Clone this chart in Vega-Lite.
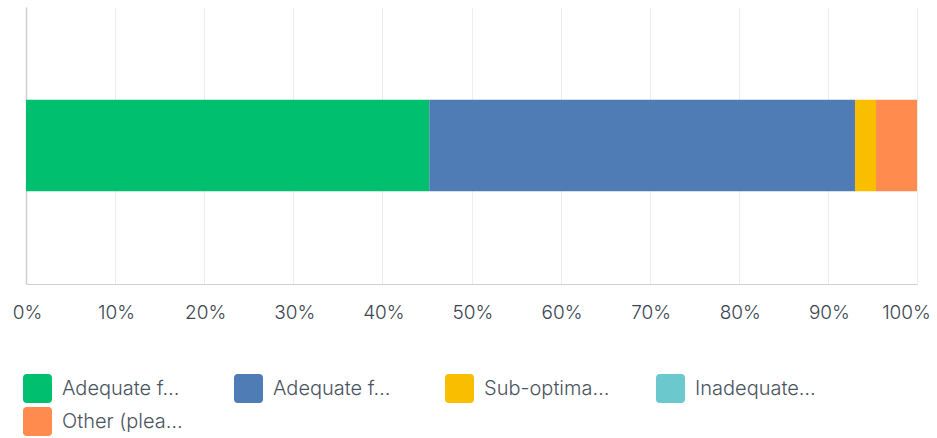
{
  "$schema": "https://vega.github.io/schema/vega-lite/v6.json",
  "autosize": {"type": "none"},
  "width": 891,
  "height": 277,
  "padding": {"left": 26, "top": 7, "right": 20, "bottom": 154},
  "background": "white",
  "data": {
    "values": [
      {"answer": "Adequate for current needs", "pct": 45.26, "rank": 1, "q": "Q"},
      {"answer": "Adequate for future needs", "pct": 47.78, "rank": 2, "q": "Q"},
      {"answer": "Sub-optimal but workable", "pct": 2.36, "rank": 3, "q": "Q"},
      {"answer": "Inadequate for needs", "pct": 0, "rank": 4, "q": "Q"},
      {"answer": "Other (please specify)", "pct": 4.6, "rank": 5, "q": "Q"}
    ]
  },
  "mark": {"type": "bar"},
  "encoding": {
    "y": {
      "field": "q",
      "type": "nominal",
      "axis": null,
      "scale": {"paddingInner": 0.67, "paddingOuter": 0.335}
    },
    "x": {
      "field": "pct",
      "type": "quantitative",
      "stack": "zero",
      "scale": {"domain": [0, 100], "nice": false},
      "axis": {
        "values": [0, 10, 20, 30, 40, 50, 60, 70, 80, 90, 100],
        "labelExpr": "datum.value + '%'",
        "title": null,
        "ticks": false,
        "domain": true,
        "domainColor": "#d0d0d0",
        "domainWidth": 1,
        "grid": true,
        "gridColor": {"condition": {"test": "datum.value == 0", "value": "#d0d0d0"}, "value": "#ececec"},
        "gridWidth": {"condition": {"test": "datum.value == 0", "value": 1.5}, "value": 1},
        "labelFont": "Inter",
        "labelFontSize": 19,
        "labelFontWeight": 300,
        "labelColor": "#3b4650",
        "labelPadding": 19,
        "labelFlush": false,
        "labelOverlap": false,
        "labelOffset": {"expr": "datum.value == 100 ? -11 : 1"}
      }
    },
    "color": {
      "field": "answer",
      "type": "nominal",
      "scale": {
        "domain": ["Adequate for current needs", "Adequate for future needs", "Sub-optimal but workable", "Inadequate for needs", "Other (please specify)"],
        "range": ["#00bf6f", "#507cb6", "#f9be00", "#6bc8cd", "#ff8b4f"]
      },
      "legend": {
        "orient": "none",
        "legendX": -3,
        "legendY": 367,
        "direction": "horizontal",
        "columns": 4,
        "gridAlign": "all",
        "columnPadding": 46,
        "rowPadding": 4,
        "title": null,
        "symbolType": "M-0.75,-1H0.75A0.25,0.25 0 0 1 1,-0.75V0.75A0.25,0.25 0 0 1 0.75,1H-0.75A0.25,0.25 0 0 1 -1,0.75V-0.75A0.25,0.25 0 0 1 -0.75,-1Z",
        "symbolSize": 841,
        "symbolStrokeWidth": 0,
        "symbolOpacity": 1,
        "labelOffset": 10,
        "labelFont": "Inter",
        "labelFontSize": 20,
        "labelFontWeight": 300,
        "labelColor": "#4a545e",
        "labelLimit": 300,
        "labelExpr": "datum.label == 'Other (please specify)' ? 'Other (plea…' : substring(datum.label, 0, 10) + '…'"
      }
    },
    "order": {"field": "rank", "type": "quantitative"}
  },
  "config": {"view": {"stroke": null}}
}
